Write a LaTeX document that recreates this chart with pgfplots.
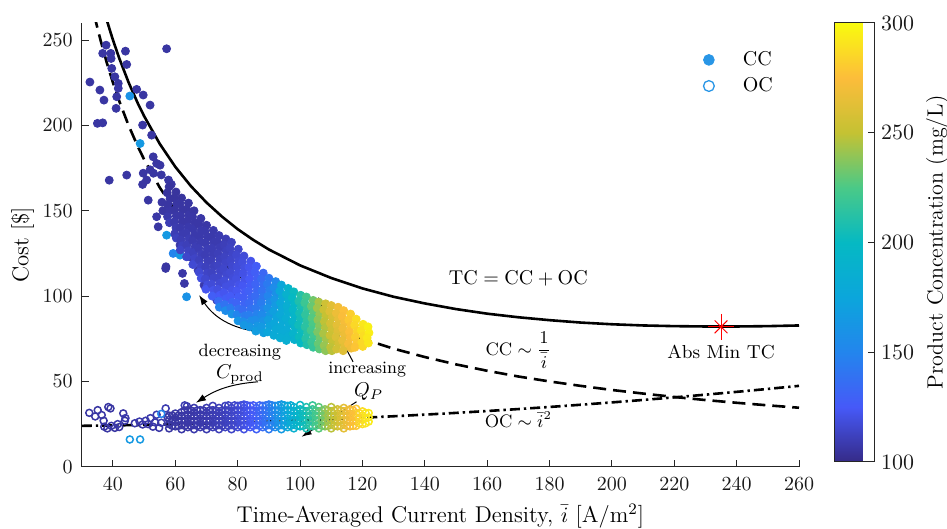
\documentclass[border=0pt]{standalone}
\usepackage{pgfplots}
\pgfplotsset{compat=1.18}
\usepackage{pgfplotstable}
\usetikzlibrary{arrows.meta}
\definecolor{legblue}{RGB}{41,150,230}
\definecolor{axgray}{gray}{0.15}

\pgfplotstableread[row sep=\\]{
x y c\\
32.6 225.4 106\\ 35.8 220.7 106\\ 37.1 214.8 106\\ 35.0 201.2 106\\ 36.7 201.5 106\\
37.8 247.0 106\\ 36.7 242.2 106\\ 39.3 242.2 106\\ 39.4 239.2 106\\ 39.6 233.4 106\\
40.6 228.5 106\\ 41.7 224.6 106\\ 41.7 221.7 107\\ 41.2 216.8 106\\ 41.0 210.0 106\\
44.0 243.5 106\\ 44.4 235.7 106\\ 47.6 221.1 106\\ 49.7 217.8 106\\ 51.9 211.9 106\\
45.4 217.2 160\\ 49.5 200.2 106\\ 52.4 194.3 106\\ 48.7 189.4 165\\ 57.2 244.9 106\\
38.8 167.9 106\\ 44.4 170.9 106\\ 52.9 181.6 106\\ 54.0 177.7 106\\ 55.1 176.7 106\\
49.7 172.0 106\\ 51.9 174.0 106\\ 50.8 168.0 106\\ 49.5 165.4 106\\ 51.3 156.2 106\\
55.7 155.0 106\\ 56.0 150.0 106\\ 54.0 146.5 107\\ 54.5 140.6 106\\ 57.2 135.7 165\\
61.5 129.9 107\\ 59.3 125.0 150\\ 57.0 117.2 106\\ 61.5 124.0 165\\ 64.7 123.0 107\\
56.9 116.2 106\\ 62.3 113.3 107\\ 62.9 107.4 107\\ 63.6 99.6 160\\ 67.3 115.2 108\\
69.2 106.4 108\\ 70.9 112.3 108\\ 73.3 101.6 109\\ 73.3 97.6 109\\ 78.6 101.6 112\\
81.8 84.0 165\\ 82.8 83.5 165\\ 83.3 83.0 166\\ 86.0 88.0 168\\ 87.5 87.0 168\\ 89.0 87.5 168\\
53.0 172.0 106\\ 55.5 171.0 106\\ 57.8 168.0 106\\ 58.7 165.5 106\\
58.0 164.0 105\\ 57.4 160.5 105\\ 58.3 157.0 106\\ 57.6 153.5 106\\ 58.2 150.0 107\\ 57.5 146.5 108\\ 58.1 143.0 110\\
60.2 161.0 105\\ 59.6 157.5 105\\ 60.4 154.0 106\\ 59.8 150.5 106\\ 60.3 147.0 107\\ 59.7 143.5 108\\ 60.2 140.0 109\\ 59.8 136.5 110\\ 60.3 134.0 112\\
62.0 157.5 105\\ 61.5 154.0 106\\ 62.3 150.5 106\\ 61.7 147.0 107\\ 62.2 143.5 107\\ 61.6 140.0 108\\ 62.4 136.5 109\\ 61.8 133.0 110\\ 62.2 129.5 112\\ 61.6 127.0 114\\
64.2 154.5 106\\ 63.6 151.0 106\\ 64.3 147.5 107\\ 63.8 144.0 107\\ 64.1 140.5 108\\ 63.5 137.0 109\\ 64.4 133.5 110\\ 63.7 130.0 111\\ 64.2 126.5 113\\ 63.6 123.0 115\\
66.0 150.0 106\\ 65.5 146.5 107\\ 66.3 143.0 107\\ 65.7 139.5 108\\ 66.2 136.0 108\\ 65.6 132.5 109\\ 66.4 129.0 110\\ 65.8 125.5 112\\ 66.2 122.0 114\\ 65.6 118.5 117\\
68.2 145.5 107\\ 67.6 142.0 107\\ 68.3 138.5 108\\ 67.8 135.0 108\\ 68.1 131.5 109\\ 67.5 128.0 110\\ 68.4 124.5 111\\ 67.7 121.0 112\\ 68.2 117.5 114\\ 67.6 114.0 117\\ 68.3 110.5 120\\
70.0 141.5 107\\ 69.5 138.0 108\\ 70.3 134.5 108\\ 69.7 131.0 109\\ 70.2 127.5 110\\ 69.6 124.0 110\\ 70.4 120.5 111\\ 69.8 117.0 112\\ 70.2 113.5 114\\ 69.6 110.0 116\\ 70.3 106.5 119\\ 69.8 104.0 123\\
72.2 138.5 108\\ 71.6 135.0 108\\ 72.3 131.5 109\\ 71.8 128.0 110\\ 72.1 124.5 110\\ 71.5 121.0 111\\ 72.4 117.5 112\\ 71.7 114.0 113\\ 72.2 110.5 115\\ 71.6 107.0 118\\ 72.3 103.5 122\\ 71.8 100.0 128\\
74.0 135.5 109\\ 73.5 132.0 109\\ 74.3 128.5 110\\ 73.7 125.0 111\\ 74.2 121.5 112\\ 73.6 118.0 113\\ 74.4 114.5 114\\ 73.8 111.0 115\\ 74.2 107.5 117\\ 73.6 104.0 120\\ 74.3 100.5 125\\ 73.8 97.0 135\\ 74.1 93.5 150\\
76.2 133.5 110\\ 75.6 130.0 111\\ 76.3 126.5 112\\ 75.8 123.0 113\\ 76.1 119.5 114\\ 75.5 116.0 115\\ 76.4 112.5 116\\ 75.7 109.0 118\\ 76.2 105.5 120\\ 75.6 102.0 123\\ 76.3 98.5 128\\ 75.8 95.0 140\\ 76.1 91.5 155\\
78.0 131.5 112\\ 77.5 128.0 113\\ 78.3 124.5 114\\ 77.7 121.0 115\\ 78.2 117.5 116\\ 77.6 114.0 117\\ 78.4 110.5 118\\ 77.8 107.0 120\\ 78.2 103.5 122\\ 77.6 100.0 126\\ 78.3 96.5 132\\ 77.8 93.0 145\\ 78.1 89.5 160\\
80.2 127.5 115\\ 79.6 124.0 116\\ 80.3 120.5 117\\ 79.8 117.0 118\\ 80.1 113.5 119\\ 79.5 110.0 120\\ 80.4 106.5 122\\ 79.7 103.0 124\\ 80.2 99.5 127\\ 79.6 96.0 131\\ 80.3 92.5 138\\ 79.8 89.0 150\\ 80.1 85.5 162\\
82.0 123.5 118\\ 81.5 120.0 119\\ 82.3 116.5 120\\ 81.7 113.0 121\\ 82.2 109.5 122\\ 81.6 106.0 124\\ 82.4 102.5 126\\ 81.8 99.0 128\\ 82.2 95.5 131\\ 81.6 92.0 136\\ 82.3 88.5 145\\ 81.8 85.0 156\\ 82.1 83.0 164\\
84.2 120.5 122\\ 83.6 117.0 123\\ 84.3 113.5 124\\ 83.8 110.0 125\\ 84.1 106.5 127\\ 83.5 103.0 129\\ 84.4 99.5 131\\ 83.7 96.0 134\\ 84.2 92.5 138\\ 83.6 89.0 146\\ 84.3 85.5 156\\ 83.8 82.0 164\\
86.0 117.5 127\\ 85.5 114.0 128\\ 86.3 110.5 129\\ 85.7 107.0 131\\ 86.2 103.5 133\\ 85.6 100.0 135\\ 86.4 96.5 138\\ 85.8 93.0 142\\ 86.2 89.5 148\\ 85.6 86.0 156\\ 86.3 82.5 163\\ 85.8 79.5 168\\
88.2 113.5 133\\ 87.6 110.0 135\\ 88.3 106.5 137\\ 87.8 103.0 139\\ 88.1 99.5 142\\ 87.5 96.0 145\\ 88.4 92.5 149\\ 87.7 89.0 154\\ 88.2 85.5 160\\ 87.6 82.0 166\\ 88.3 78.5 170\\
90.0 110.5 142\\ 89.5 107.0 144\\ 90.3 103.5 147\\ 89.7 100.0 150\\ 90.2 96.5 154\\ 89.6 93.0 158\\ 90.4 89.5 163\\ 89.8 86.0 168\\ 90.2 82.5 172\\ 89.6 79.0 175\\
92.2 108.5 152\\ 91.6 105.0 155\\ 92.3 101.5 158\\ 91.8 98.0 162\\ 92.1 94.5 166\\ 91.5 91.0 170\\ 92.4 87.5 173\\ 91.7 84.0 176\\ 92.2 80.5 179\\ 91.6 77.0 181\\
94.0 106.5 176\\ 93.5 103.0 176\\ 94.3 99.5 177\\ 93.7 96.0 177\\ 94.2 92.5 178\\ 93.6 89.0 178\\ 94.4 85.5 179\\ 93.8 82.0 180\\ 94.2 78.5 182\\ 93.6 75.5 184\\
96.2 104.5 192\\ 95.6 101.0 190\\ 96.3 97.5 188\\ 95.8 94.0 186\\ 96.1 90.5 185\\ 95.5 87.0 184\\ 96.4 83.5 183\\ 95.7 80.0 182\\ 96.2 76.5 184\\ 95.6 74.0 186\\
98.0 102.5 202\\ 97.5 99.0 200\\ 98.3 95.5 198\\ 97.7 92.0 196\\ 98.2 88.5 195\\ 97.6 85.0 194\\ 98.4 81.5 193\\ 97.8 78.0 192\\ 98.2 74.5 190\\
100.2 100.5 212\\ 99.6 97.0 210\\ 100.3 93.5 208\\ 99.8 90.0 206\\ 100.1 86.5 205\\ 99.5 83.0 204\\ 100.4 79.5 203\\ 99.7 76.0 202\\ 100.2 72.5 200\\
102.0 99.5 222\\ 101.5 96.0 220\\ 102.3 92.5 218\\ 101.7 89.0 216\\ 102.2 85.5 215\\ 101.6 82.0 214\\ 102.4 78.5 213\\ 101.8 75.0 212\\ 102.2 71.5 210\\
104.2 97.5 233\\ 103.6 94.0 231\\ 104.3 90.5 229\\ 103.8 87.0 227\\ 104.1 83.5 225\\ 103.5 80.0 223\\ 104.4 76.5 221\\ 103.7 73.0 219\\ 104.2 70.0 217\\
106.0 96.5 245\\ 105.5 93.0 243\\ 106.3 89.5 241\\ 105.7 86.0 239\\ 106.2 82.5 237\\ 105.6 79.0 235\\ 106.4 75.5 233\\ 105.8 72.0 231\\ 106.2 69.0 229\\
108.2 95.5 255\\ 107.6 92.0 253\\ 108.3 88.5 251\\ 107.8 85.0 249\\ 108.1 81.5 247\\ 107.5 78.0 245\\ 108.4 74.5 243\\ 107.7 71.0 241\\ 108.2 68.0 239\\
110.0 94.5 263\\ 109.5 91.0 261\\ 110.3 87.5 259\\ 109.7 84.0 257\\ 110.2 80.5 255\\ 109.6 77.0 253\\ 110.4 73.5 251\\ 109.8 70.0 249\\ 110.2 68.0 248\\
112.2 93.5 270\\ 111.6 90.0 268\\ 112.3 86.5 266\\ 111.8 83.0 264\\ 112.1 79.5 262\\ 111.5 76.0 260\\ 112.4 72.5 258\\ 111.7 69.0 256\\
114.0 91.5 276\\ 113.5 88.0 274\\ 114.3 84.5 272\\ 113.7 81.0 270\\ 114.2 77.5 268\\ 113.6 74.0 266\\ 114.4 70.5 264\\ 113.8 68.0 262\\
116.2 89.5 282\\ 115.6 86.0 280\\ 116.3 82.5 278\\ 115.8 79.0 276\\ 116.1 75.5 274\\ 115.5 72.0 272\\ 116.4 69.5 270\\
118.0 86.5 288\\ 117.5 83.0 286\\ 118.3 79.5 284\\ 117.7 76.0 282\\ 118.2 72.5 280\\ 117.6 70.0 278\\
120.2 83.5 292\\ 119.6 80.0 290\\ 120.3 76.5 288\\ 119.8 73.0 286\\ 120.1 70.5 286\\
121.8 82.0 296\\ 122.1 78.5 295\\ 121.5 75.5 293\\ 121.9 72.5 292\\
}\ccdata

\pgfplotstableread[row sep=\\]{
x y c\\
32.4 31.6 106\\ 34.3 29.5 106\\ 35.1 33.2 106\\ 36.4 30.3 107\\ 37.0 27.0 106\\ 37.2 23.5 107\\
38.5 35.0 106\\ 39.2 34.2 106\\ 38.2 22.5 106\\ 39.5 24.0 107\\ 40.6 22.8 106\\ 41.5 25.0 108\\
42.0 23.3 106\\ 43.3 31.3 107\\ 43.8 27.0 106\\ 44.0 28.5 108\\ 45.4 16.0 165\\ 48.7 16.0 165\\
47.0 25.5 107\\ 48.5 26.5 108\\ 49.5 24.8 107\\ 50.5 27.0 108\\ 51.3 25.0 107\\ 52.0 28.5 108\\
52.8 23.5 107\\ 53.5 26.0 108\\ 54.0 30.5 108\\ 54.8 22.8 107\\ 55.5 25.8 108\\ 56.9 34.2 109\\
57.5 29.0 108\\ 55.5 31.0 150\\ 63.0 36.0 109\\ 63.7 35.5 109\\
58 22.5 106\\ 58 25 106\\ 58 27.5 106\\ 58 30 106\\
60 23.7 106\\ 60 26.2 106\\ 60 28.7 106\\ 60 31.2 106\\
62 22 107\\ 62 24.5 107\\ 62 27 107\\ 62 29.5 107\\ 62 32 107\\
64 23.2 107\\ 64 25.7 107\\ 64 28.2 107\\ 64 30.7 107\\ 64 33.2 107\\
66 22 108\\ 66 24.5 108\\ 66 27 108\\ 66 29.5 108\\ 66 32 108\\ 66 34.5 108\\
68 23.2 108\\ 68 25.7 108\\ 68 28.2 108\\ 68 30.7 108\\ 68 33.2 108\\
70 22 109\\ 70 24.5 109\\ 70 27 109\\ 70 29.5 109\\ 70 32 109\\ 70 34.5 109\\
72 23.2 110\\ 72 25.7 110\\ 72 28.2 110\\ 72 30.7 110\\ 72 33.2 110\\ 72 35.7 110\\
74 22 111\\ 74 24.5 111\\ 74 27 111\\ 74 29.5 111\\ 74 32 111\\ 74 34.5 111\\
76 23.2 112\\ 76 25.7 112\\ 76 28.2 112\\ 76 30.7 112\\ 76 33.2 112\\ 76 35.7 112\\
78 22 114\\ 78 24.5 114\\ 78 27 114\\ 78 29.5 114\\ 78 32 114\\ 78 34.5 114\\
80 23.2 117\\ 80 25.7 117\\ 80 28.2 117\\ 80 30.7 117\\ 80 33.2 117\\ 80 35.7 117\\
82 22 120\\ 82 24.5 120\\ 82 27 120\\ 82 29.5 120\\ 82 32 120\\ 82 34.5 120\\ 82 36.5 120\\
84 23.2 124\\ 84 25.7 124\\ 84 28.2 124\\ 84 30.7 124\\ 84 33.2 124\\ 84 35.7 124\\
86 22 129\\ 86 24.5 129\\ 86 27 129\\ 86 29.5 129\\ 86 32 129\\ 86 34.5 129\\
88 23.2 135\\ 88 25.7 135\\ 88 28.2 135\\ 88 30.7 135\\ 88 33.2 135\\ 88 35.7 135\\
90 22 143\\ 90 24.5 143\\ 90 27 143\\ 90 29.5 143\\ 90 32 143\\ 90 34.5 143\\ 90 36.5 143\\
92 23.2 153\\ 92 25.7 153\\ 92 28.2 153\\ 92 30.7 153\\ 92 33.2 153\\ 92 35.7 153\\
94 22 165\\ 94 24.5 165\\ 94 27 165\\ 94 29.5 165\\ 94 32 165\\ 94 34.5 165\\ 94 36.5 165\\
96 23.2 178\\ 96 25.7 178\\ 96 28.2 178\\ 96 30.7 178\\ 96 33.2 178\\ 96 35.7 178\\
98 22.5 188\\ 98 25 188\\ 98 27.5 188\\ 98 30 188\\ 98 32.5 188\\ 98 35 188\\
100 23.7 198\\ 100 26.2 198\\ 100 28.7 198\\ 100 31.2 198\\ 100 33.7 198\\ 100 36.2 198\\
102 22.5 208\\ 102 25 208\\ 102 27.5 208\\ 102 30 208\\ 102 32.5 208\\ 102 35 208\\
104 23.7 218\\ 104 26.2 218\\ 104 28.7 218\\ 104 31.2 218\\ 104 33.7 218\\ 104 36 218\\
106 22.5 228\\ 106 25 228\\ 106 27.5 228\\ 106 30 228\\ 106 32.5 228\\ 106 35 228\\
108 23.7 238\\ 108 26.2 238\\ 108 28.7 238\\ 108 31.2 238\\ 108 33.7 238\\
110 22.5 248\\ 110 25 248\\ 110 27.5 248\\ 110 30 248\\ 110 32.5 248\\ 110 35 248\\
112 23.7 256\\ 112 26.2 256\\ 112 28.7 256\\ 112 31.2 256\\ 112 33.7 256\\
114 22.5 264\\ 114 25 264\\ 114 27.5 264\\ 114 30 264\\ 114 32.5 264\\ 114 34.5 264\\
116 23.7 272\\ 116 26.2 272\\ 116 28.7 272\\ 116 31.2 272\\ 116 33.7 272\\
118 24 280\\ 118 26.5 280\\ 118 29 280\\ 118 31.5 280\\ 118 34 280\\
120 25 288\\ 120 27.5 288\\ 120 30 288\\ 120 32.5 288\\
122 26.5 294\\ 122 29 294\\ 122 31.5 294\\
59 24 106\\ 59 27 106\\ 59 30 106\\
61 24 106\\ 61 27 106\\ 61 30 106\\
63 24 107\\ 63 27 107\\ 63 30 107\\ 63 33 107\\
65 24 107\\ 65 27 107\\ 65 30 107\\ 65 33 107\\
67 24 108\\ 67 27 108\\ 67 30 108\\ 67 33 108\\
69 24 108\\ 69 27 108\\ 69 30 108\\ 69 33 108\\
71 24 109\\ 71 27 109\\ 71 30 109\\ 71 33 109\\
73 24 110\\ 73 27 110\\ 73 30 110\\ 73 33 110\\
75 24 111\\ 75 27 111\\ 75 30 111\\ 75 33 111\\
77 24 113\\ 77 27 113\\ 77 30 113\\ 77 33 113\\ 77 36 113\\
79 24 115\\ 79 27 115\\ 79 30 115\\ 79 33 115\\ 79 36 115\\
81 24 118\\ 81 27 118\\ 81 30 118\\ 81 33 118\\ 81 36 118\\
83 24 122\\ 83 27 122\\ 83 30 122\\ 83 33 122\\ 83 36 122\\
85 24 126\\ 85 27 126\\ 85 30 126\\ 85 33 126\\ 85 36 126\\
87 24 132\\ 87 27 132\\ 87 30 132\\ 87 33 132\\ 87 36 132\\
89 24 139\\ 89 27 139\\ 89 30 139\\ 89 33 139\\ 89 36 139\\
91 24 148\\ 91 27 148\\ 91 30 148\\ 91 33 148\\ 91 36 148\\
93 24 159\\ 93 27 159\\ 93 30 159\\ 93 33 159\\ 93 36 159\\
95 24 171\\ 95 27 171\\ 95 30 171\\ 95 33 171\\ 95 36 171\\
97 24 183\\ 97 27 183\\ 97 30 183\\ 97 33 183\\ 97 36 183\\
99 24 193\\ 99 27 193\\ 99 30 193\\ 99 33 193\\
101 24 203\\ 101 27 203\\ 101 30 203\\ 101 33 203\\
103 24 213\\ 103 27 213\\ 103 30 213\\ 103 33 213\\
105 24 223\\ 105 27 223\\ 105 30 223\\ 105 33 223\\
107 24 233\\ 107 27 233\\ 107 30 233\\ 107 33 233\\
109 24 243\\ 109 27 243\\ 109 30 243\\ 109 33 243\\
111 24 252\\ 111 27 252\\ 111 30 252\\ 111 33 252\\
113 24 260\\ 113 27 260\\ 113 30 260\\ 113 33 260\\
115 24 268\\ 115 27 268\\ 115 30 268\\ 115 33 268\\
117 24 276\\ 117 27 276\\ 117 30 276\\ 117 33 276\\
119 25.5 284\\ 119 28.5 284\\ 119 31.5 284\\
121 25.5 291\\ 121 28.5 291\\ 121 31.5 291\\
}\ocdata

\begin{document}
\begin{tikzpicture}
\path[use as bounding box] (-40.9pt,-30.65pt) rectangle (432.6pt,233.4pt);
\begin{axis}[
  at={(0,0)}, anchor=south west,
  width=358.6pt, height=221.9pt, scale only axis,
  xmin=30, xmax=260, ymin=0, ymax=260,
  xtick={40,60,...,260}, ytick={0,50,...,250},
  axis x line*=bottom, axis y line*=left,
  tick align=inside, major tick length=3.5pt,
  axis line style={axgray, line width=0.5pt},
  tick style={axgray, line width=0.5pt},
  ticklabel style={font=\fontsize{10}{12}\selectfont, text=black!90},
  xticklabel style={yshift=-2pt},
  yticklabel style={xshift=-1pt},
  xlabel={Time-Averaged Current Density, $\bar{i}$ [A/m$^2$]},
  ylabel={Cost [\$]},
  every axis x label/.style={at={(axis description cs:0.5,-0.111)}, anchor=center, font=\fontsize{11.4}{13}\selectfont},
  every axis y label/.style={at={(axis description cs:-0.0825,0.5)}, rotate=90, anchor=center, font=\fontsize{11.4}{13}\selectfont},
  colormap={parula}{rgb=(0.208,0.166,0.529) rgb=(0.275,0.349,0.971) rgb=(0.137,0.522,0.930) rgb=(0.045,0.650,0.860) rgb=(0.020,0.725,0.765) rgb=(0.290,0.790,0.530) rgb=(0.770,0.760,0.200) rgb=(0.990,0.740,0.230) rgb=(0.976,0.983,0.054)},
  point meta min=100, point meta max=300,
  colorbar,
  colorbar style={
    at={(parent axis.north east)}, anchor=north west, xshift=9pt,
    width=20pt, height=219.5pt, scale only axis,
    axis lines=box,
    ytick={100,150,...,300},
    ytick pos=right, yticklabel pos=right,
    tick align=inside, major tick length=3pt,
    yticklabel style={font=\fontsize{11}{13}\selectfont, xshift=0pt},
    ylabel={Product Concentration (mg/L)},
    every axis y label/.style={at={(axis description cs:2.575,0.5)}, rotate=90, anchor=center, font=\fontsize{11}{13}\selectfont},
    axis line style={axgray, line width=0.5pt},
  },
  legend style={draw=none, fill=none, at={(axis description cs:0.857,0.955)}, anchor=north west, font=\fontsize{10}{12}\selectfont, row sep=0.5pt},
  legend cell align=left,
]
\addplot[scatter, only marks, mark=o, mark size=1.75pt, scatter src=explicit,
  scatter/use mapped color={draw=mapped color}, mark options={line width=0.75pt}, forget plot]
  table[x=x, y=y, meta=c] {\ocdata};
\addplot[scatter, only marks, mark=*, mark size=2pt, scatter src=explicit,
  scatter/use mapped color={draw=mapped color, fill=mapped color}, forget plot]
  table[x=x, y=y, meta=c] {\ccdata};

\addplot[black, line width=1.3pt, forget plot] coordinates {
(37,268.2)(38,261.8)(39,255.8)(40,250.0)(42,239.4)(45,225.2)(48,212.8)(50,205.4)(55,189.2)(60,175.7)(65,164.4)(70,154.8)(75,146.5)(80,139.2)(85,132.9)(90,127.3)(100,118.0)(110,110.6)(120,104.5)(130,99.6)(140,95.7)(150,92.4)(160,89.7)(170,87.6)(180,85.9)(190,84.5)(200,83.5)(210,82.8)(220,82.4)(230,82.2)(240,82.2)(250,82.4)(260,82.8)};
\addplot[black, line width=1.3pt, dash pattern=on 6.5pt off 3.5pt, forget plot] coordinates {
(34,264.7)(35,257.1)(36,250)(38,236.8)(40,225)(42,214.3)(45,200)(48,187.5)(50,180)(55,163.6)(60,150)(65,138.5)(70,128.6)(75,120)(80,112.5)(85,105.9)(90,100)(100,90)(110,81.8)(120,75)(130,69.2)(140,64.3)(150,60)(160,56.25)(170,52.9)(180,50)(190,47.4)(200,45)(210,42.9)(220,40.9)(230,39.1)(240,37.5)(250,36)(260,34.6)};
\addplot[black, line width=1.3pt, dash pattern=on 5pt off 2pt on 1.2pt off 2pt, forget plot] coordinates {
(30,24.0)(40,24.24)(50,24.56)(60,24.94)(70,25.40)(80,25.93)(90,26.52)(100,27.19)(110,27.93)(120,28.73)(130,29.61)(140,30.56)(150,31.58)(160,32.67)(170,33.82)(180,35.05)(190,36.35)(200,37.72)(210,39.16)(220,40.67)(230,42.25)(240,43.90)(250,45.62)(260,47.41)};

\addplot[only marks, mark=+, mark size=6.5pt, red, mark options={line width=0.5pt}, forget plot] coordinates {(235,82)};
\addplot[only marks, mark=x, mark size=4.5pt, red, mark options={line width=0.5pt}, forget plot] coordinates {(235,82)};

\addlegendimage{legend image code/.code={\fill[legblue] (0pt,0pt) circle (2.7pt); \path[draw=none,fill=none] (-3pt,0pt) -- (15pt,0pt);}}
\addlegendentry{CC}
\addlegendimage{legend image code/.code={\draw[legblue, line width=0.65pt] (0pt,0pt) circle (2.7pt); \path[draw=none,fill=none] (-3pt,0pt) -- (15pt,0pt);}}
\addlegendentry{OC}

\node[font=\fontsize{10}{12}\selectfont] at (axis cs:170,110.4) {$\mathrm{TC} = \mathrm{CC} + \mathrm{OC}$};
\node[font=\fontsize{9}{11}\selectfont] at (axis cs:170,68.4) {$\mathrm{CC} \sim \displaystyle\frac{1}{\bar{i}}$};
\node[font=\fontsize{9}{11}\selectfont] at (axis cs:170,27.5) {$\mathrm{OC} \sim \bar{i}^{2}$};
\node[font=\fontsize{9.4}{11}\selectfont] at (axis cs:235,67.5) {Abs Min TC};
\node[font=\fontsize{8.9}{10}\selectfont] at (axis cs:80.7,67.2) {decreasing};
\node[font=\fontsize{10}{12}\selectfont] at (axis cs:80.7,54) {$C_{\mathrm{prod}}$};
\node[font=\fontsize{8.7}{10}\selectfont] at (axis cs:121.5,57) {increasing};
\node[font=\fontsize{10}{12}\selectfont] at (axis cs:122,44) {$Q_{P}$};

\draw[-{Latex[length=5pt,width=3.5pt]}, line width=0.5pt] (axis cs:86.5,79.1) to[bend left=24] (axis cs:67.6,100.6);
\draw[-{Latex[length=5pt,width=3.5pt]}, line width=0.5pt] (axis cs:86.5,49.8) to[bend right=14] (axis cs:66.6,37.5);
\draw[-{Latex[length=5pt,width=3.5pt]}, line width=0.5pt] (axis cs:117.0,61.5) -- (axis cs:105.8,99.6);
\draw[-{Latex[length=5pt,width=3.5pt]}, line width=0.5pt] (axis cs:118.1,38.1) -- (axis cs:100.5,17.6);
\end{axis}
\end{tikzpicture}
\end{document}
